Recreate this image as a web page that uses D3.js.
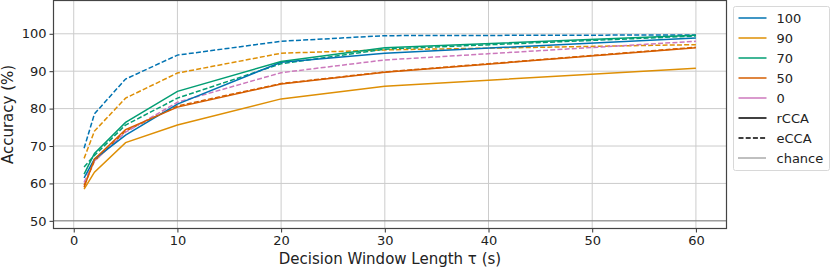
<!DOCTYPE html>
<html>
<head>
<meta charset="utf-8">
<script src="https://cdn.jsdelivr.net/npm/d3@7"></script>
<style>
  body { margin: 0; background: #fff; }
  text { font-family: "DejaVu Sans", sans-serif; fill: #222; }
</style>
</head>
<body>
<div id="chart"></div>
<script>
// window lengths (s)
var windows = [1, 2, 5, 10, 20, 30, 60];

// rCCA accuracy per condition
var rcca100 = [61.5, 66.5, 72.9, 81.2, 92.4, 94.8, 98.9];
var rcca90 = [58.5, 63.0, 70.9, 75.6, 82.6, 86.0, 90.8];
var rcca70 = [62.5, 68.0, 76.3, 84.6, 92.6, 96.3, 99.6];
var rcca50 = [59.0, 66.5, 74.4, 80.4, 86.6, 89.7, 96.3];

// eCCA accuracy per condition
var ecca100 = [69.4, 78.6, 87.9, 94.3, 98.0, 99.5, 99.7];
var ecca90 = [66.7, 74.0, 82.8, 89.5, 94.8, 95.7, 97.1];
var ecca70 = [64.4, 67.5, 75.6, 82.8, 92.0, 95.9, 99.4];
var ecca50 = [59.5, 66.0, 74.0, 80.7, 86.7, 89.8, 96.4];
var ecca0 = [60.3, 66.0, 73.7, 81.7, 89.6, 93.0, 98.0];

var chance = 50;

var xTicks = [0, 10, 20, 30, 40, 50, 60];
var yTicks = [50, 60, 70, 80, 90, 100];

var conditions = ["100", "90", "70", "50", "0"];
var colors = ["#0173b2", "#de8f05", "#029e73", "#d55e00", "#cc78bc"];

var series = [
  {cond: "100", method: "eCCA", values: ecca100},
  {cond: "90", method: "eCCA", values: ecca90},
  {cond: "70", method: "eCCA", values: ecca70},
  {cond: "50", method: "eCCA", values: ecca50},
  {cond: "0", method: "eCCA", values: ecca0},
  {cond: "100", method: "rCCA", values: rcca100},
  {cond: "90", method: "rCCA", values: rcca90},
  {cond: "70", method: "rCCA", values: rcca70},
  {cond: "50", method: "rCCA", values: rcca50}
];

var W = 831, H = 269;
var margin = {left: 53.5, right: 104.5, top: 0.5, bottom: 40.5};

var svg = d3.select("#chart").append("svg")
  .attr("width", W)
  .attr("height", H);

var x = d3.scaleLinear().domain([-1.95, 62.95]).range([margin.left, W - margin.right]);
var y = d3.scaleLinear().domain([47.95, 108.9]).range([H - margin.bottom, margin.top]);

var color = d3.scaleOrdinal().domain(conditions).range(colors);

// grid
var grid = svg.append("g");
grid.selectAll(".gx").data(xTicks).enter().append("line")
  .attr("x1", function(d) { return x(d); })
  .attr("x2", function(d) { return x(d); })
  .attr("y1", y.range()[0]).attr("y2", y.range()[1])
  .attr("stroke", "#cccccc").attr("stroke-width", 1);
grid.selectAll(".gy").data(yTicks).enter().append("line")
  .attr("y1", function(d) { return y(d); })
  .attr("y2", function(d) { return y(d); })
  .attr("x1", x.range()[0]).attr("x2", x.range()[1])
  .attr("stroke", "#cccccc").attr("stroke-width", 1);

// chance line
svg.append("line")
  .attr("x1", x.range()[0]).attr("x2", x.range()[1])
  .attr("y1", y(chance)).attr("y2", y(chance))
  .attr("stroke", "#222").attr("stroke-width", 1)
  .attr("stroke-dasharray", "1,1");

var line = d3.line()
  .x(function(d, i) { return x(windows[i]); })
  .y(function(d) { return y(d); });

svg.selectAll(".series").data(series).enter().append("path")
  .attr("d", function(d) { return line(d.values); })
  .attr("fill", "none")
  .attr("stroke", function(d) { return color(d.cond); })
  .attr("stroke-width", 1.5)
  .attr("stroke-dasharray", function(d) { return d.method == "eCCA" ? "5,2.2" : null; });

// axes
var xAxis = svg.append("g")
  .attr("transform", "translate(0," + y.range()[0] + ")")
  .call(d3.axisBottom(x).tickValues(xTicks).tickSize(4).tickPadding(3));
var yAxis = svg.append("g")
  .attr("transform", "translate(" + x.range()[0] + ",0)")
  .call(d3.axisLeft(y).tickValues(yTicks).tickSize(4).tickPadding(3));

[xAxis, yAxis].forEach(function(a) {
  a.select(".domain").remove();
  a.selectAll("line").attr("stroke", "#333");
  a.selectAll("text").attr("font-size", 13).style("fill", "#222");
});

// frame
svg.append("rect")
  .attr("x", x.range()[0]).attr("y", y.range()[1])
  .attr("width", x.range()[1] - x.range()[0])
  .attr("height", y.range()[0] - y.range()[1])
  .attr("fill", "none").attr("stroke", "#444").attr("stroke-width", 1.2);

// labels
svg.append("text")
  .attr("x", (x.range()[0] + x.range()[1]) / 2)
  .attr("y", 264)
  .attr("text-anchor", "middle")
  .attr("font-size", 15)
  .text("Decision Window Length τ (s)");
svg.append("text")
  .attr("transform", "translate(13," + ((y.range()[0] + y.range()[1]) / 2) + ") rotate(-90)")
  .attr("text-anchor", "middle")
  .attr("font-size", 15)
  .text("Accuracy (%)");

// legend
var legendItems = conditions.map(function(c) { return {label: c, color: color(c), dash: null}; })
  .concat([
    {label: "rCCA", color: "#000", dash: null},
    {label: "eCCA", color: "#000", dash: "5,2.2"},
    {label: "chance", color: "#000", dash: "1,1", thin: true}
  ]);

var lg = svg.append("g").attr("transform", "translate(733.5,6.5)");
lg.append("rect")
  .attr("width", 96).attr("height", 164)
  .attr("rx", 2)
  .attr("fill", "#fff").attr("stroke", "#d8d8d8");
var li = lg.selectAll(".li").data(legendItems).enter().append("g")
  .attr("transform", function(d, i) { return "translate(0," + (11.5 + i * 20) + ")"; });
li.append("line")
  .attr("x1", 5).attr("x2", 33).attr("y1", 0).attr("y2", 0)
  .attr("stroke", function(d) { return d.color; })
  .attr("stroke-width", function(d) { return d.thin ? 1 : 1.5; })
  .attr("stroke-dasharray", function(d) { return d.dash; });
li.append("text")
  .attr("x", 43).attr("y", 4.5)
  .attr("font-size", 13)
  .text(function(d) { return d.label; });
</script>
</body>
</html>
